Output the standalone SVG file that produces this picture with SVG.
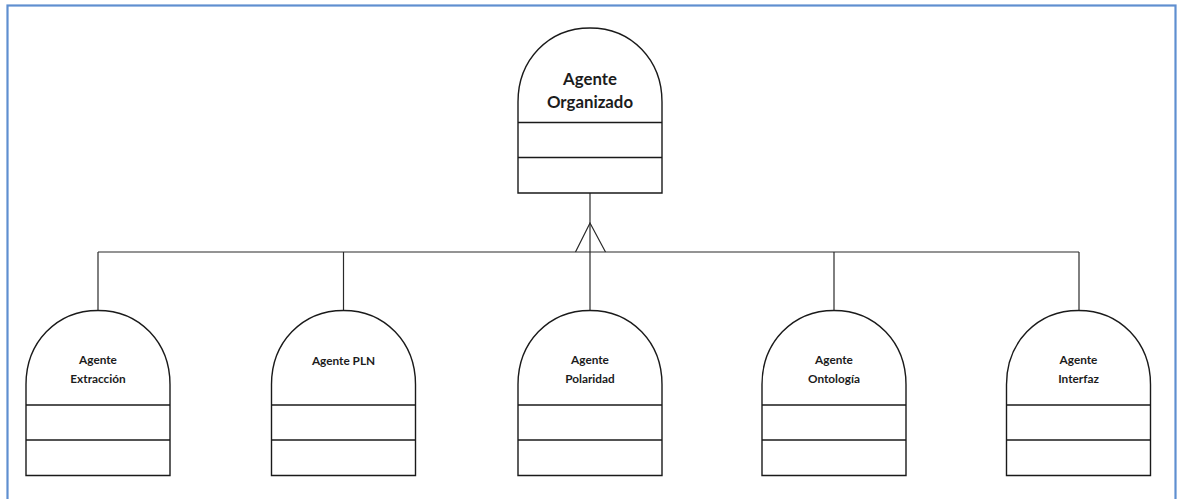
<svg xmlns="http://www.w3.org/2000/svg" width="1182" height="499" viewBox="0 0 1182 499">
  <style>
    .frame { fill: none; stroke: #5f8fd0; stroke-width: 2.2; }
    .shape { fill: #ffffff; stroke: #1a1a1a; stroke-width: 1.4; }
    .div { stroke: #1a1a1a; stroke-width: 1.4; }
    .wire { fill: none; stroke: #2a2a2a; stroke-width: 1.2; }
    .big { font-family: Lato, "Liberation Sans", sans-serif; font-weight: 700; font-size: 16.8px; fill: #1c1c1c; text-anchor: middle; }
    .small { font-family: Lato, "Liberation Sans", sans-serif; font-weight: 700; font-size: 11.8px; fill: #1c1c1c; text-anchor: middle; }
  </style>
  <defs>
    <!-- agent symbol: rounded dome over two compartments, origin at top centre -->
    <g id="agent">
      <path class="shape" d="M -72 165 V 74 C -72 32.2 -41.8 0 0 0 C 41.8 0 72 32.2 72 74 V 165 Z"/>
      <line class="div" x1="-72" y1="94.5" x2="72" y2="94.5"/>
      <line class="div" x1="-72" y1="129.5" x2="72" y2="129.5"/>
    </g>
  </defs>

  <rect width="1182" height="499" fill="#ffffff"/>
  <rect class="frame" x="7.5" y="5.5" width="1168" height="510"/>

  <g id="connectors">
    <line class="wire" x1="590" y1="193" x2="590" y2="310.5"/>
    <line class="wire" x1="98" y1="252" x2="1079" y2="252"/>
    <polyline class="wire" points="575.5,252 590,223 605.5,252"/>
    <line class="wire" x1="98" y1="252" x2="98" y2="310.5"/>
    <line class="wire" x1="343.5" y1="252" x2="343.5" y2="310.5"/>
    <line class="wire" x1="834" y1="252" x2="834" y2="310.5"/>
    <line class="wire" x1="1079" y1="252" x2="1079" y2="310.5"/>
  </g>

  <g id="agente-organizado">
    <use href="#agent" x="590" y="28"/>
    <text class="big" x="590" y="85">Agente</text>
    <text class="big" x="590" y="108">Organizado</text>
  </g>

  <g id="agente-extraccion">
    <use href="#agent" x="98" y="310.5"/>
    <text class="small" x="98" y="364">Agente</text>
    <text class="small" x="98" y="382.5">Extracción</text>
  </g>

  <g id="agente-pln">
    <use href="#agent" x="343.5" y="310.5"/>
    <text class="small" x="343.5" y="365">Agente PLN</text>
  </g>

  <g id="agente-polaridad">
    <use href="#agent" x="590" y="310.5"/>
    <text class="small" x="590" y="364">Agente</text>
    <text class="small" x="590" y="382.5">Polaridad</text>
  </g>

  <g id="agente-ontologia">
    <use href="#agent" x="834" y="310.5"/>
    <text class="small" x="834" y="364">Agente</text>
    <text class="small" x="834" y="382.5">Ontología</text>
  </g>

  <g id="agente-interfaz">
    <use href="#agent" x="1078.5" y="310.5"/>
    <text class="small" x="1078.5" y="364">Agente</text>
    <text class="small" x="1078.5" y="382.5">Interfaz</text>
  </g>
</svg>
